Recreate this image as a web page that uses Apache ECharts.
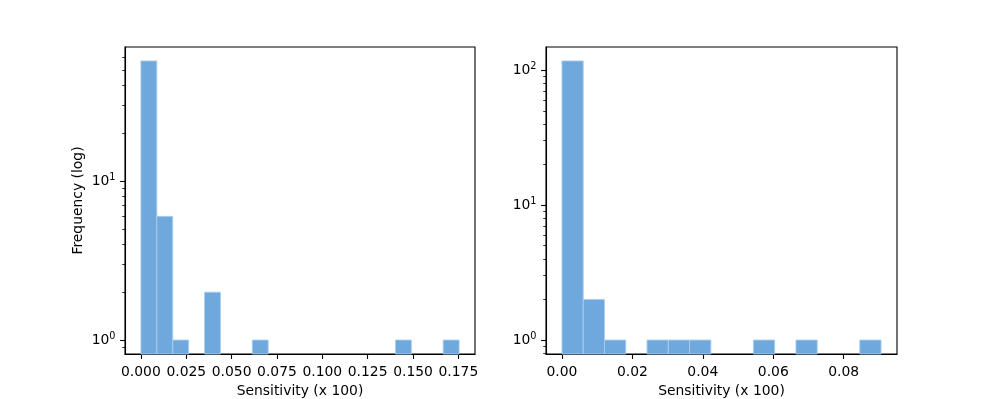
<!DOCTYPE html>
<html>
<head>
<meta charset="utf-8">
<script src="https://cdn.jsdelivr.net/npm/echarts@6/dist/echarts.min.js"></script>
<style>html,body{margin:0;padding:0;background:#fff}#c{width:997px;height:399px}</style>
</head>
<body>
<div id="c"></div>
<script>
// ---- data ----
const leftRange = [0, 0.1754];
const leftCounts = [57, 6, 1, 0, 2, 0, 0, 1, 0, 0, 0, 0, 0, 0, 0, 0, 1, 0, 0, 1];
const rightRange = [0, 0.0906];
const rightCounts = [117, 2, 1, 0, 1, 1, 1, 0, 0, 1, 0, 1, 0, 0, 1];
const leftXTicks = [0, 0.025, 0.05, 0.075, 0.1, 0.125, 0.15, 0.175];
const rightXTicks = [0, 0.02, 0.04, 0.06, 0.08];
const leftYTicks = [1, 10];
const rightYTicks = [1, 10, 100];
const leftYMinor = [0.9, 2, 3, 4, 5, 6, 7, 8, 9, 20, 30, 40, 50, 60];
const rightYMinor = [0.8, 0.9, 2, 3, 4, 5, 6, 7, 8, 9, 20, 30, 40, 50, 60, 70, 80, 90];
const xLabel = 'Sensitivity (x 100)';
const yLabel = 'Frequency (log)';

function bins(range, counts) {
  const w = (range[1] - range[0]) / counts.length;
  const out = [];
  counts.forEach((c, i) => { if (c > 0) out.push([range[0] + i * w, range[0] + (i + 1) * w, c]); });
  return out;
}
function margins(range) {
  const m = (range[1] - range[0]) * 0.05;
  return [range[0] - m, range[1] + m];
}
function logMargins(lo, hi) {
  const a = Math.log10(lo), b = Math.log10(hi), m = (b - a) * 0.05;
  return [Math.pow(10, a - m), Math.pow(10, b + m)];
}

const FONT = 'DejaVu Sans';
const FS = 13.9;
const supRich = {
  b: { fontFamily: FONT, fontSize: FS, color: '#000' },
  s: { fontFamily: FONT, fontSize: 9.7, color: '#000', padding: [0, 0, 7, 0] }
};
function powLabel(v) {
  const e = Math.round(Math.log10(v));
  return '{b|10}{s|' + e + '}';
}

const lx = margins(leftRange), rx = margins(rightRange);
const ly = logMargins(1, Math.max(...leftCounts));
const ry = logMargins(1, Math.max(...rightCounts));

function xAxis(gi, ext, ticks, dec) {
  return {
    type: 'value', gridIndex: gi, min: ext[0], max: ext[1], position: 'bottom',
    splitLine: { show: false },
    axisLine: { show: true, onZero: false, lineStyle: { color: '#000', width: 1.1 } },
    axisTick: { show: true, length: 4.9, customValues: ticks, lineStyle: { color: '#000', width: 1.1 } },
    axisLabel: { customValues: ticks, margin: 11, fontFamily: FONT, fontSize: FS, color: '#000',
      formatter: v => v.toFixed(dec) },
    name: xLabel, nameLocation: 'middle', nameGap: 30,
    nameTextStyle: { fontFamily: FONT, fontSize: FS, color: '#000' }
  };
}
function yMajor(gi, ext, ticks, withName) {
  const a = {
    type: 'log', logBase: 10, gridIndex: gi, min: ext[0], max: ext[1], position: 'left',
    splitLine: { show: false },
    axisLine: { show: true, onZero: false, lineStyle: { color: '#000', width: 1.1 } },
    axisTick: { show: true, length: 4.9, customValues: ticks, lineStyle: { color: '#000', width: 1.1 } },
    axisLabel: { customValues: ticks, margin: 9.5, formatter: powLabel, rich: supRich }
  };
  if (withName) {
    a.name = yLabel; a.nameLocation = 'middle'; a.nameGap = 40; a.nameRotate = 90;
    a.nameTextStyle = { fontFamily: FONT, fontSize: FS, color: '#000' };
  }
  return a;
}
function yMinor(gi, ext, ticks) {
  return {
    type: 'log', logBase: 10, gridIndex: gi, min: ext[0], max: ext[1], position: 'left',
    splitLine: { show: false },
    axisLine: { show: false, onZero: false },
    axisTick: { show: true, length: 2.8, customValues: ticks, lineStyle: { color: '#000', width: 0.8 } },
    axisLabel: { show: false }
  };
}

function histSeries(xi, yi, data, yMin) {
  return {
    type: 'custom', xAxisIndex: xi, yAxisIndex: yi, data: data,
    encode: { x: [0, 1], y: 2 },
    renderItem: function (params, api) {
      const p0 = api.coord([api.value(0), api.value(2)]);
      const p1 = api.coord([api.value(1), yMin]);
      return {
        type: 'rect',
        shape: { x: p0[0], y: p0[1], width: p1[0] - p0[0], height: p1[1] - p0[1] },
        style: { fill: '#6fa8dc', stroke: 'rgba(170,205,236,0.9)', lineWidth: 1 }
      };
    }
  };
}

const gridBase = { top: 47, height: 307, show: true, borderColor: '#000', borderWidth: 1.1,
  backgroundColor: 'transparent', containLabel: false, outerBoundsMode: 'none' };

const chart = echarts.init(document.getElementById('c'), null, { renderer: 'canvas' });
chart.setOption({
  backgroundColor: '#fff',
  animation: false,
  grid: [
    Object.assign({ left: 125, width: 350 }, gridBase),
    Object.assign({ left: 546, width: 351 }, gridBase)
  ],
  xAxis: [xAxis(0, lx, leftXTicks, 3), xAxis(1, rx, rightXTicks, 2)],
  yAxis: [yMajor(0, ly, leftYTicks, true), yMinor(0, ly, leftYMinor), yMajor(1, ry, rightYTicks, false), yMinor(1, ry, rightYMinor)],
  series: [
    histSeries(0, 0, bins(leftRange, leftCounts), ly[0]),
    histSeries(1, 2, bins(rightRange, rightCounts), ry[0])
  ]
});
</script>
</body>
</html>
